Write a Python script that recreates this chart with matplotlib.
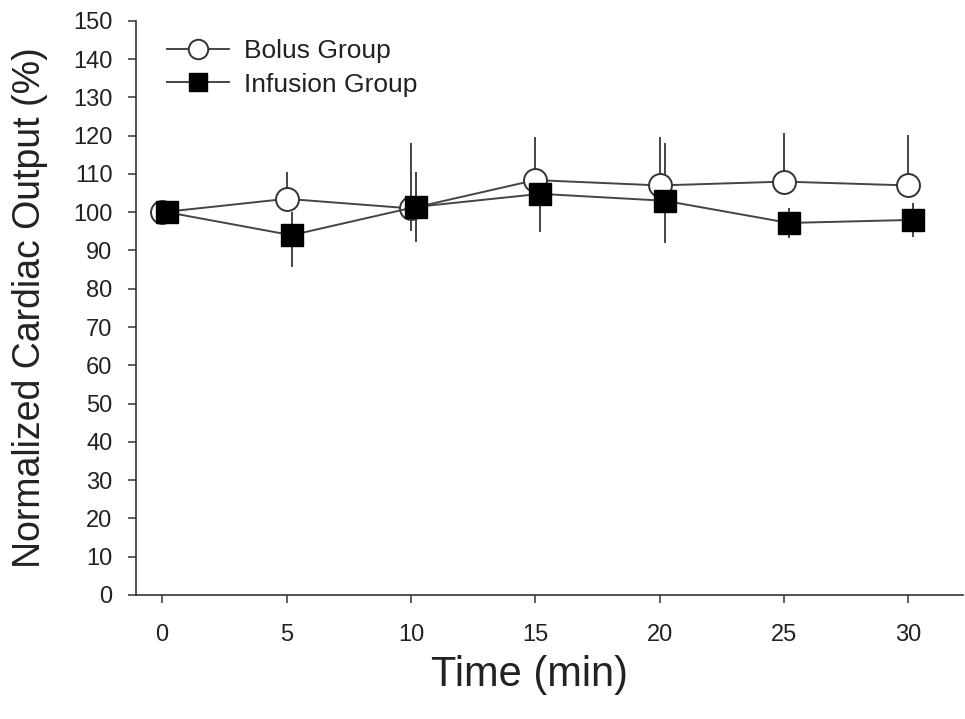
#Normalized cardiac output over time, bolus vs infusion group
import numpy as np
import matplotlib
matplotlib.use("Agg")
import matplotlib.pyplot as plt

plt.rcParams['font.family'] = ['Liberation Sans', 'DejaVu Sans']

# DATA
time = [0, 5, 10, 15, 20, 25, 30]
bolus = [100, 103.5, 101, 108.4, 107, 108, 107]
bolus_err_low = [0, 0, 6, 0, 0, 0, 0]
bolus_err_high = [0, 7, 17, 11.3, 12.7, 12.7, 13.3]
infusion = [100, 94, 101.4, 104.8, 103, 97.2, 98]
infusion_err_low = [0, 8.3, 9.2, 10, 11, 4, 4.5]
infusion_err_high = [0, 6, 9.1, 4, 15, 4, 4.4]
offset = 0.2   # infusion points drawn slightly to the right

fig = plt.figure(figsize=(9.65, 7.19), dpi=100)
ax = fig.add_axes([0.141, 0.1725, 0.857, 0.7985])

t = np.array(time)
ax.errorbar(t, bolus, yerr=[bolus_err_low, bolus_err_high], fmt='none',
            ecolor='#444444', elinewidth=1.4, capsize=0, zorder=1)
ax.errorbar(t + offset, infusion, yerr=[infusion_err_low, infusion_err_high], fmt='none',
            ecolor='#444444', elinewidth=1.4, capsize=0, zorder=1)
ax.plot(t, bolus, '-o', color='#444444', lw=1.4, ms=16.5, mfc='white', mec='#333333',
        mew=1.4, label='Bolus Group', zorder=3)
ax.plot(t + offset, infusion, '-s', color='#444444', lw=1.4, ms=15.5, mfc='black', mec='black',
        label='Infusion Group', zorder=4)

ax.set_xlim(-1.05, 32.2)
ax.set_ylim(0, 150)
ax.set_xticks(time)
ax.set_yticks(np.arange(0, 151, 10))
ax.spines['top'].set_visible(False)
ax.spines['right'].set_visible(False)
for s in ['left', 'bottom']:
    ax.spines[s].set_color('#333333')
    ax.spines[s].set_linewidth(1.2)
ax.tick_params(direction='out', length=6, width=1.1, colors='#333333',
               labelsize=17, labelcolor='#222222')
ax.tick_params(axis='x', pad=15)
ax.tick_params(axis='y', pad=11)

ax.set_xlabel('Time (min)', fontsize=30, color='#222222')
ax.xaxis.set_label_coords(0.476, -0.105)
ax.set_ylabel('Normalized Cardiac Output (%)', fontsize=27, color='#222222', labelpad=18)

ax.legend(loc='upper left', bbox_to_anchor=(0.009, 1.009), frameon=False, fontsize=19,
          handlelength=2.35, handletextpad=0.55, labelspacing=0.35, labelcolor='#222222',
          markerscale=0.85)

fig.savefig('out.png', dpi=100)
